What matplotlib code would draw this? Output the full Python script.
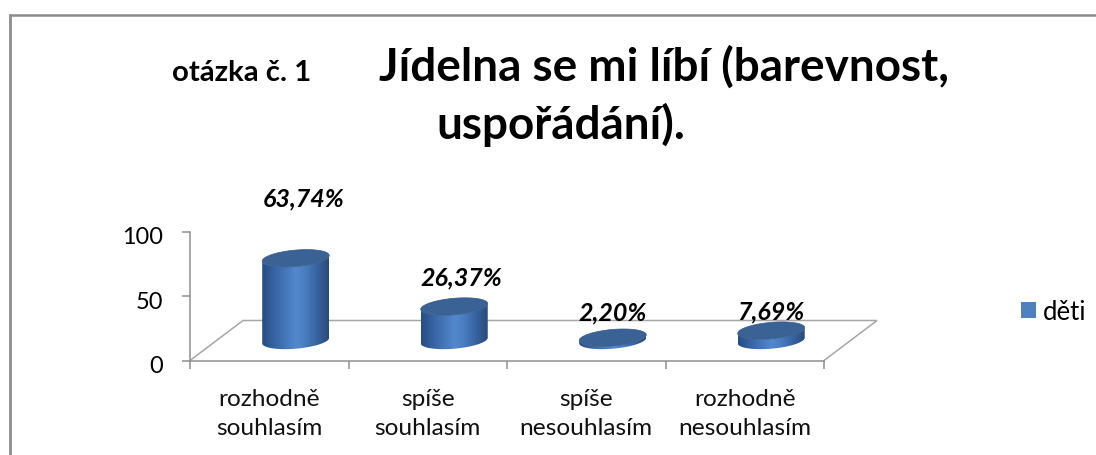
import numpy as np
import matplotlib
matplotlib.use("Agg")
import matplotlib.pyplot as plt
from matplotlib.patches import Polygon, Rectangle
from matplotlib.lines import Line2D
from matplotlib.transforms import offset_copy, ScaledTranslation

categories = ["rozhodně\nsouhlasím", "spíše\nsouhlasím", "spíše\nnesouhlasím", "rozhodně\nnesouhlasím"]
values = [63.74, 26.37, 2.20, 7.69]
value_labels = ["63,74%", "26,37%", "2,20%", "7,69%"]
yticks = [0, 50, 100]
series_name = "děti"
question = "otázka č. 1"
title_line1 = "Jídelna se mi líbí (barevnost,"
title_line2 = "uspořádání)."

W, H = 1096, 456
plt.rcParams["font.family"] = ["Lato", "DejaVu Sans"]
fig = plt.figure(figsize=(W / 100, H / 100), dpi=100, facecolor="white")

def px_rect(x0, y_top, x1, y_bot):
    return [x0 / W, 1 - y_bot / H, (x1 - x0) / W, (y_bot - y_top) / H]

# Figure-wide frame (only top and left edges are visible)
fig.add_artist(Line2D([9.5 / W, 9.5 / W], [0, 1 - 15 / H], color="#8c8c8c", lw=2.0, solid_capstyle="butt"))
fig.add_artist(Line2D([9 / W, 1], [1 - 15.5 / H, 1 - 15.5 / H], color="#8c8c8c", lw=1.8, solid_capstyle="butt"))

ax = fig.add_axes(px_rect(190, 232.5, 824, 361.5))
ax.set_xlim(0, len(categories))
ax.set_ylim(0, 100)
ax.patch.set_alpha(0)
for s in ("top", "right"):
    ax.spines[s].set_visible(False)
for s in ("left", "bottom"):
    ax.spines[s].set_color("#8e8e8e")
    ax.spines[s].set_linewidth(1.1)
ax.set_yticks(yticks)
ax.set_xticks(range(len(categories) + 1))
ax.set_xticklabels([])
ax.tick_params(axis="both", color="#8e8e8e", width=1.1, length=6, labelsize=16.9)
ax.tick_params(axis="y", pad=13.2)
for lbl in ax.get_yticklabels():
    lbl.set_transform(lbl.get_transform() + ScaledTranslation(0, -2.2 / 72, fig.dpi_scale_trans))

# x scale in px/category and y scale in px/unit
ux = 634 / len(categories)
uy = 129 / 100
depth_x = 53 / ux
depth_y = 40 / uy

# Floor back edges
n = len(categories)
ax.plot([0, depth_x, n + depth_x, n], [0, depth_y, depth_y, 0], color="#a6a6a6", lw=1.1,
        clip_on=False, zorder=1, solid_joinstyle="miter")

# Category labels
for i, c in enumerate(categories):
    ax.annotate(c, xy=(i + 0.5, 0), xytext=(0, -19.5), textcoords="offset points", ha="center", va="top",
                fontsize=17.6, linespacing=1.5, color="#111111", annotation_clip=False)

# Horizontal gradient for the cylinder sides
stops = np.array([[0x27, 0x4d, 0x84], [0x3a, 0x68, 0xa8], [0x52, 0x88, 0xcc], [0x4c, 0x80, 0xc4],
                  [0x35, 0x5f, 0x9c], [0x2b, 0x4a, 0x78]]) / 255
pos = np.array([0, 0.22, 0.5, 0.62, 0.85, 1])
t = np.linspace(0, 1, 128)
grad = np.stack([np.interp(t, pos, stops[:, k]) for k in range(3)], axis=-1)[None, :, :]

half_w = 33.5 / ux
b = 8.2 / uy       # ellipse semi-minor
shear = 2.8 / uy   # ellipse tilt
base = 20 / uy     # base centre height above axis
cx_off = 0.667
theta = np.linspace(0, 2 * np.pi, 181)

def ell(cx, cy, th):
    return np.column_stack([cx + half_w * np.cos(th), cy + b * np.sin(th) + shear * np.cos(th)])

for i, v in enumerate(values):
    cx = i + cx_off
    top = base + v
    lower = ell(cx, base, np.linspace(np.pi, 2 * np.pi, 91))
    body = Polygon(np.vstack([lower, ell(cx, top, np.linspace(2 * np.pi, np.pi, 91))]), closed=True,
                   fc="none", ec="none", transform=ax.transData)
    ax.add_patch(body)
    im = ax.imshow(grad, extent=(cx - half_w, cx + half_w, base - b - shear, top + b + shear),
                   aspect="auto", zorder=2, interpolation="bilinear")
    im.set_clip_path(body)
    ax.add_patch(Polygon(ell(cx, top, theta), closed=True, fc="#3b6295", ec="#35598a", lw=0.5, zorder=3))
ax.set_xlim(0, n)
ax.set_ylim(0, 100)

# Value labels, offset in px from the top of each cylinder
label_off = [(7.5, 60.5), (7.5, 29.5), (-0.5, 25.5), (-0.5, 19.5)]
for i, v in enumerate(values):
    tr = offset_copy(ax.transData, fig=fig, x=label_off[i][0], y=label_off[i][1], units="dots")
    ax.text(i + cx_off, base + v, value_labels[i], transform=tr, ha="center", va="center",
            fontsize=18, fontweight="bold", fontstyle="italic", color="black", zorder=5, clip_on=False)

# Titles
fig.text(241.5 / W, 1 - 81 / H, question, ha="center", va="baseline", fontsize=21.2, fontweight="bold", color="black")
fig.text(664.5 / W, 1 - 81 / H, title_line1, ha="center", va="baseline", fontsize=33, fontweight="bold", color="black")
fig.text(561 / W, 1 - 139 / H, title_line2, ha="center", va="baseline", fontsize=33, fontweight="bold", color="black")

# Legend
fig.legend(handles=[Rectangle((0, 0), 1, 1, fc="#4f81bd", ec="none")], labels=[series_name],
           loc="center left", bbox_to_anchor=(1021 / W, 1 - 312.5 / H), frameon=False, fontsize=18.5,
           handlelength=0.58, handleheight=0.58, handletextpad=0.27, borderpad=0, borderaxespad=0)

fig.savefig("out.png", dpi=100, facecolor="white")
